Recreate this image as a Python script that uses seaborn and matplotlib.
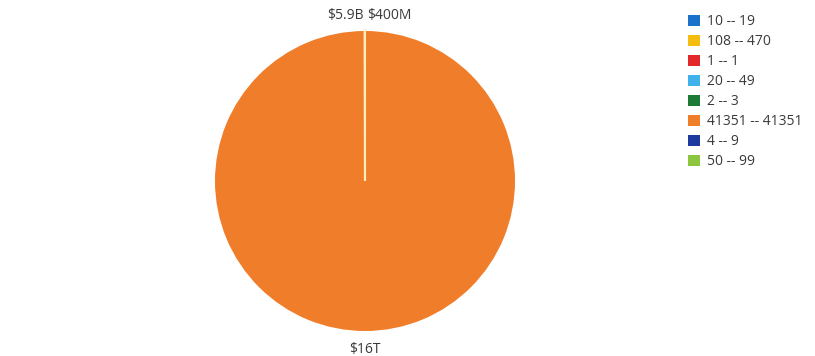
import matplotlib
matplotlib.use("Agg")
import matplotlib.pyplot as plt
from matplotlib.patches import Patch
import numpy as np
import seaborn as sns

# Revenue by size bucket
categories = ["10 -- 19", "108 -- 470", "1 -- 1", "20 -- 49", "2 -- 3",
              "41351 -- 41351", "4 -- 9", "50 -- 99"]
values = [6.0e7, 5.9e9, 2.0e6, 9.0e7, 8.0e6, 1.6e13, 2.5e7, 4.0e8]
colors = ["#1a73c9", "#f5bd0f", "#e3282a", "#3fb2ec", "#1d7a35",
          "#f07d2a", "#1f3a9e", "#8cc63f"]

# clockwise slice order starting at 12 o'clock
slice_order = ["50 -- 99", "20 -- 49", "10 -- 19", "4 -- 9", "2 -- 3", "1 -- 1",
               "41351 -- 41351", "108 -- 470"]
label_threshold = 1.0e8


def fmt_money(v):
    for div, suf in ((1e12, "T"), (1e9, "B"), (1e6, "M"), (1e3, "K")):
        if v >= div:
            q = v / div
            s = f"{q:.0f}" if q >= 10 else f"{q:.2g}"
            return f"${s}{suf}"
    return f"${v:.0f}"


sns.set_theme(style="white")
plt.rcParams["font.family"] = ["Open Sans", "DejaVu Sans"]

fig = plt.figure(figsize=(8.15, 3.56), dpi=100)
ax = fig.add_axes([215 / 815, 25 / 356, 300 / 815, 300 / 356])

idx = [categories.index(c) for c in slice_order]
pie_vals = [values[i] for i in idx]
pie_cols = [colors[i] for i in idx]

wedges, _ = ax.pie(pie_vals, colors=pie_cols, startangle=90, counterclock=False)
total = sum(pie_vals)
for w, v in zip(wedges, pie_vals):
    # thin slices get a pale outline so they stay visible as a sliver
    if v / total < 0.01:
        w.set_edgecolor("#fbeeb8")
        w.set_linewidth(1.5)
    else:
        w.set_linewidth(0)
ax.set_xlim(-1, 1)
ax.set_ylim(-1, 1)
ax.set_aspect("equal")
ax.axis("off")

label_color = "#3a3a3a"
for w, v in zip(wedges, pie_vals):
    if v < label_threshold:
        continue
    mid = np.deg2rad((w.theta1 + w.theta2) / 2)
    x, y = np.cos(mid), np.sin(mid)
    if abs(x) < 0.05 and y > 0:
        # the two slivers at the top share one line
        ha = "left" if x > 0 else "right"
        ax.text(0.012 if x > 0 else -0.012, 1.08, fmt_money(v), ha=ha, va="baseline",
                fontsize=10, color=label_color)
    else:
        ax.text(x * 1.145, y * 1.145, fmt_money(v), ha="center",
                va="baseline" if y < 0 else "bottom", fontsize=10, color=label_color)

handles = [Patch(facecolor=c, edgecolor="none") for c in colors]
fig.legend(handles, categories, loc="upper left", bbox_to_anchor=(688 / 815, 1 - 14 / 356),
           frameon=False, fontsize=10, handlelength=0.85, handleheight=0.85,
           handletextpad=0.55, labelspacing=0.36, borderaxespad=0, borderpad=0,
           labelcolor=label_color)

fig.savefig("out.png", dpi=100)
